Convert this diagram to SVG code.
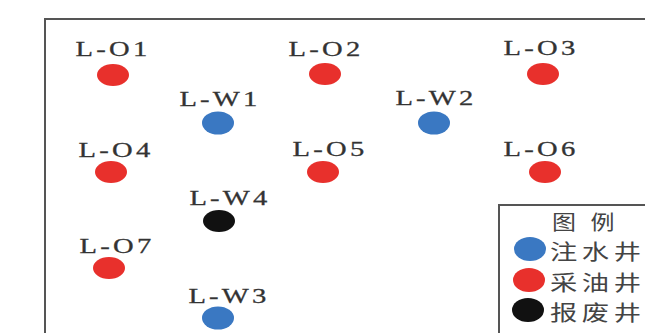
<svg xmlns="http://www.w3.org/2000/svg" width="645" height="333" viewBox="0 0 645 333">
<style>
.lbl{font-family:"Liberation Serif","Times New Roman",serif;font-size:22px;fill:#333;stroke:#333;stroke-width:0.3;letter-spacing:2.5px;text-anchor:middle}
.leg{font-family:"Noto Sans CJK SC","Noto Sans CJK JP",sans-serif;font-size:21px;fill:#444;letter-spacing:3.5px}
.oil{fill:#e8302c}
.inj{fill:#3a78c2}
.ab{fill:#111}
</style>
<rect x="0" y="0" width="645" height="333" fill="#fff"/>
<rect x="45" y="19" width="640" height="360" fill="none" stroke="#555" stroke-width="2"/>
<g id="L-O1"><text class="lbl" transform="translate(113,56) scale(1.3,1)">L-O1</text><ellipse class="oil" cx="113" cy="75" rx="16" ry="11"/></g>
<g id="L-O2"><text class="lbl" transform="translate(326,56) scale(1.3,1)">L-O2</text><ellipse class="oil" cx="325" cy="74" rx="16" ry="11"/></g>
<g id="L-O3"><text class="lbl" transform="translate(541,55) scale(1.3,1)">L-O3</text><ellipse class="oil" cx="543" cy="74" rx="16" ry="11"/></g>
<g id="L-W1"><text class="lbl" transform="translate(220,106) scale(1.3,1)">L-W1</text><ellipse class="inj" cx="218" cy="123" rx="16" ry="11.5"/></g>
<g id="L-W2"><text class="lbl" transform="translate(436,105) scale(1.3,1)">L-W2</text><ellipse class="inj" cx="434" cy="123" rx="16" ry="11.5"/></g>
<g id="L-O4"><text class="lbl" transform="translate(116,157) scale(1.3,1)">L-O4</text><ellipse class="oil" cx="111" cy="172" rx="16" ry="11"/></g>
<g id="L-O5"><text class="lbl" transform="translate(330,156) scale(1.3,1)">L-O5</text><ellipse class="oil" cx="323" cy="172" rx="16" ry="11"/></g>
<g id="L-O6"><text class="lbl" transform="translate(541,156) scale(1.3,1)">L-O6</text><ellipse class="oil" cx="545" cy="172" rx="16" ry="11"/></g>
<g id="L-W4"><text class="lbl" transform="translate(230,205) scale(1.3,1)">L-W4</text><ellipse class="ab" cx="219" cy="221" rx="16" ry="11"/></g>
<g id="L-O7"><text class="lbl" transform="translate(117,253) scale(1.3,1)">L-O7</text><ellipse class="oil" cx="109" cy="268" rx="16" ry="11"/></g>
<g id="L-W3"><text class="lbl" transform="translate(229,303) scale(1.3,1)">L-W3</text><ellipse class="inj" cx="218" cy="318" rx="16" ry="11.5"/></g>
<g id="legend">
<rect x="499" y="205" width="200" height="160" fill="#fff" stroke="#555" stroke-width="2"/>
<text class="leg" transform="translate(552,230) scale(1.2,1)" style="letter-spacing:12px;font-size:20px">图例</text>
<ellipse class="inj" cx="530" cy="249" rx="16" ry="12"/>
<text class="leg" transform="translate(550,259) scale(1.3,1)">注水井</text>
<ellipse class="oil" cx="529" cy="280" rx="16" ry="12"/>
<text class="leg" transform="translate(550,290) scale(1.3,1)">采油井</text>
<ellipse class="ab" cx="528" cy="310" rx="16" ry="12"/>
<text class="leg" transform="translate(550,320) scale(1.3,1)">报废井</text>
</g>
</svg>
